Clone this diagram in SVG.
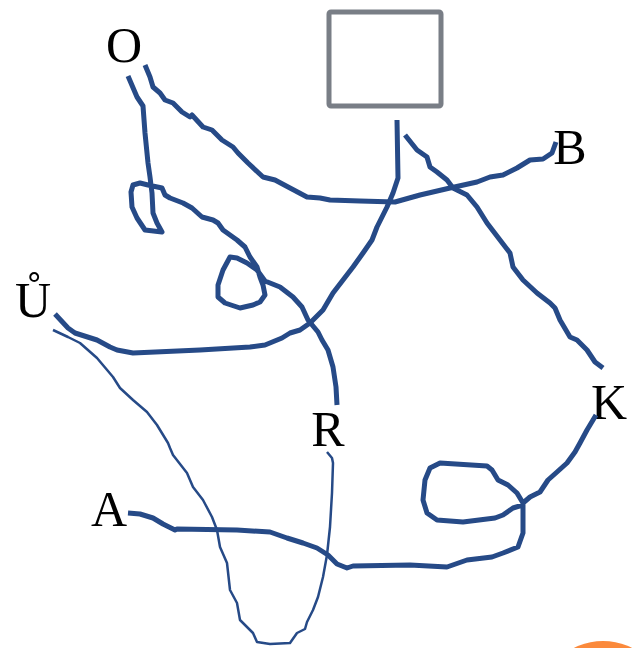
<svg xmlns="http://www.w3.org/2000/svg" width="633" height="648" viewBox="0 0 633 648">
<style>
.lbl{font-family:"Liberation Serif","Times New Roman",serif;font-size:50px;fill:#000;text-anchor:middle}
.rd{fill:none;stroke:#264a87;stroke-width:5;stroke-linecap:butt;stroke-linejoin:round}
.thin{fill:none;stroke:#264a87;stroke-width:2.5;stroke-linejoin:round}
</style>
<rect width="633" height="648" fill="#fff"/>
<g id="node-box"><rect x="329" y="12" width="112" height="94" rx="2" fill="#fff" stroke="#797e86" stroke-width="5"/></g>
<g id="node-O"><text class="lbl" x="124" y="62">O</text></g>
<g id="node-B"><text class="lbl" x="570" y="164">B</text></g>
<g id="node-U"><text class="lbl" x="33" y="317">Ů</text></g>
<g id="node-K"><text class="lbl" x="609" y="419">K</text></g>
<g id="node-R"><text class="lbl" x="328" y="446">R</text></g>
<g id="node-A"><text class="lbl" x="109" y="526">A</text></g>
<g id="node-dot"><circle cx="603" cy="705" r="64" fill="#fb8a3c"/></g>
<g id="connectors">
<path class="rd" d="M128,76 L137,97 L143,106 L145,133 L148,163 L150,177 L152,193 L153,213 L157,223 L162,232 L145,230 L137,218 L132,207 L131,192 L133,185 L140,183 L148,185 L162,188 L165,195 L170,198 L183,203 L192,208 L202,217 L213,220 L218,223 L223,230 L230,235 L237,240 L245,247 L250,257 L257,267 L260,277 L263,285 L265,295 L260,302 L253,305 L240,308 L225,303 L218,297 L218,285 L223,270 L230,257 L237,258 L247,263 L257,270 L265,281 L280,287 L293,297 L302,307 L308,320 L318,332 L322,340 L328,350 L333,367 L336,387 L337,405"/>
<path class="rd" d="M145,65 L150,77 L153,87 L160,93 L165,100 L173,103 L182,112 L190,117 L192,115 L203,127 L212,130 L222,140 L233,147 L238,153 L248,163 L263,177 L275,180 L290,188 L307,197 L320,198 L330,200 L360,201 L395,202 L420,195 L450,188 L477,182 L490,177 L503,175 L517,168 L530,160 L543,159 L552,153 L556,142"/>
<path class="rd" d="M397,120 L398,178 L393,193 L387,207 L382,217 L377,227 L372,240 L363,253 L353,267 L343,280 L333,293 L323,310 L310,323 L300,330 L290,333 L282,338 L265,345 L250,347 L200,350 L133,353 L117,350 L110,347 L97,340 L75,333 L68,328 L55,314"/>
<path class="rd" d="M405,135 L417,150 L427,157 L430,167 L437,172 L447,180 L453,188 L467,195 L477,207 L487,223 L500,240 L510,253 L513,267 L523,280 L537,293 L550,303 L555,308 L560,320 L570,337 L577,340 L587,350 L595,362 L603,368"/>
<path class="rd" d="M596,415 L587,430 L580,443 L575,452 L567,463 L557,472 L548,480 L540,492 L530,497 L523,503 L517,493 L508,485 L498,480 L492,470 L487,466 L440,463 L430,468 L425,480 L423,500 L427,513 L437,520 L463,522 L495,518 L503,515 L513,508 L523,505 L523,517 L523,533 L518,547 L503,553 L492,557 L467,560 L447,567 L410,565 L353,566 L347,568 L337,564 L328,555 L317,548 L303,543 L287,538 L270,532 L237,530 L177,529 L175,530 L163,524 L153,518 L140,514 L128,513"/>
<path class="thin" d="M53,330 L68,337 L80,343 L97,358 L113,377 L120,388 L133,400 L147,412 L157,425 L168,443 L170,448 L173,455 L187,473 L193,487 L203,500 L212,517 L217,530 L220,547 L227,563 L230,590 L237,603 L240,620 L253,633 L257,642 L270,644 L290,643 L297,633 L305,629 L307,622 L313,610 L318,597 L323,577 L327,555 L330,527 L332,493 L333,463 L332,458 L327,452"/>
</g>
</svg>
